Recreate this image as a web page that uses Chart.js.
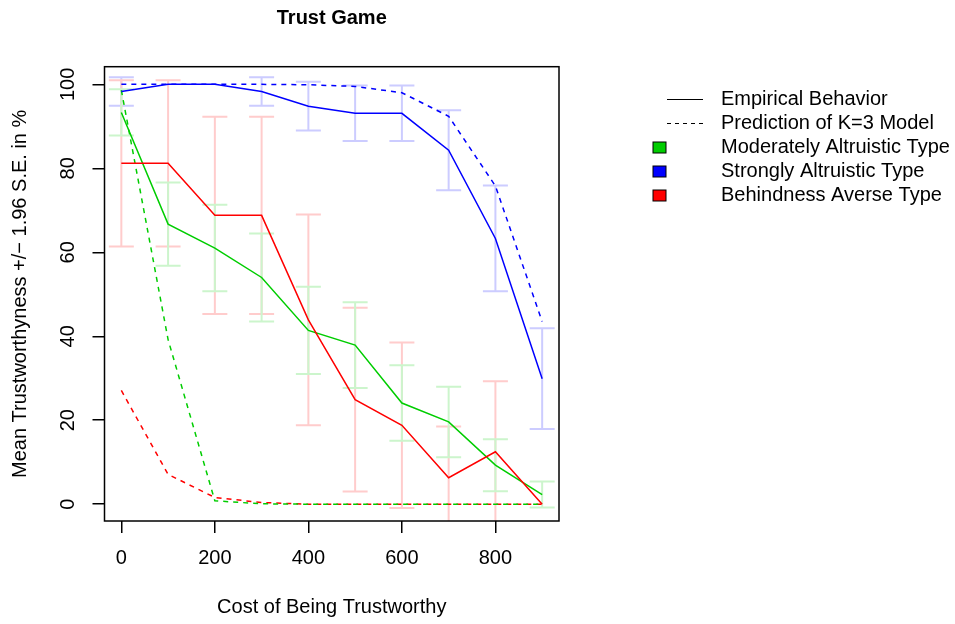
<!DOCTYPE html>
<html><head><meta charset="utf-8">
<script src="https://cdn.jsdelivr.net/npm/chart.js@4.4.1/dist/chart.umd.min.js"></script>
<style>html,body{margin:0;padding:0;background:#fff}#wrap{width:955px;height:624px}</style>
</head><body><div id="wrap"><canvas id="c" width="955" height="624"></canvas></div>
<script>
// ---- data ----
const costs = [0, 100, 200, 300, 400, 500, 600, 700, 800, 900];
const xTicks = [0, 200, 400, 600, 800];
const yTicks = [0, 20, 40, 60, 80, 100];

const moderateEmpirical = [93.3, 66.7, 61.0, 54.0, 41.4, 37.9, 24.1, 19.6, 9.3, 2.3];
const moderateError     = [5.5, 9.9, 10.3, 10.5, 10.4, 10.2, 9.0, 8.4, 6.2, 3.1];
const moderatePredicted = [98.6, 39.2, 0.8, 0.1, 0, 0, 0, 0, 0, 0];

const strongEmpirical = [98.3, 100, 100, 98.3, 94.8, 93.1, 93.1, 84.3, 63.3, 29.9];
const strongError     = [3.4, 0, 0, 3.4, 5.8, 6.6, 6.6, 9.5, 12.6, 12.0];
const strongPredicted = [100, 100, 100, 100, 99.9, 99.5, 98.0, 92.4, 75.8, 43.5];

const behindEmpirical = [81.2, 81.2, 68.8, 68.8, 43.9, 24.9, 18.8, 6.3, 12.5, 0];
const behindError     = [19.8, 19.8, 23.5, 23.5, 25.1, 21.9, 19.7, 12.2, 16.8, 0];
const behindPredicted = [27.1, 7.1, 1.6, 0.4, 0, 0, 0, 0, 0, 0];

const chartTitle = "Trust Game";
const xTitle = "Cost of Being Trustworthy";
const yTitle = "Mean Trustworthyness +/\u2212 1.96 S.E. in %";
const lineLegend = ["Empirical Behavior", "Prediction of K=3 Model"];
const typeLegend = ["Moderately Altruistic Type", "Strongly Altruistic Type", "Behindness Averse Type"];

// ---- styles ----
const GREEN = "#00CD00", BLUE = "#0000FF", RED = "#FF0000";
const FONT = "'Liberation Sans', Arial, Helvetica, sans-serif";
Chart.defaults.font.family = FONT;
Chart.defaults.font.size = 20;
Chart.defaults.color = "#000";

const pts = arr => costs.map((c, i) => ({x: c, y: arr[i]}));
function lineDs(label, arr, color, dashed) {
  return {label, data: pts(arr), borderColor: color, backgroundColor: color,
    borderWidth: 1.5, borderDash: dashed ? [5, 5] : [], pointRadius: 0,
    tension: 0, fill: false};
}

const errorSeries = [
  {mean: strongEmpirical, err: strongError, color: "#CCCCFF"},
  {mean: behindEmpirical, err: behindError, color: "#FFCCCC"},
  {mean: moderateEmpirical, err: moderateError, color: "#CCF5CC"}
];

const decor = {
  id: "decor",
  beforeDatasetsDraw(chart) {
    const {ctx, chartArea: a, scales: {x, y}} = chart;
    ctx.save();
    ctx.beginPath(); ctx.rect(a.left, a.top, a.right - a.left, a.bottom - a.top); ctx.clip();
    ctx.lineWidth = 2;
    const cap = 12.5;
    errorSeries.forEach(s => {
      ctx.strokeStyle = s.color;
      costs.forEach((c, i) => {
        if (!s.err[i]) return;
        const px = x.getPixelForValue(c);
        const t = y.getPixelForValue(s.mean[i] + s.err[i]);
        const b = y.getPixelForValue(s.mean[i] - s.err[i]);
        ctx.beginPath();
        ctx.moveTo(px, t); ctx.lineTo(px, b);
        ctx.moveTo(px - cap, t); ctx.lineTo(px + cap, t);
        ctx.moveTo(px - cap, b); ctx.lineTo(px + cap, b);
        ctx.stroke();
      });
    });
    ctx.restore();
  },
  afterDraw(chart) {
    const {ctx, chartArea: a} = chart;
    ctx.save();
    // frame
    ctx.strokeStyle = "#000"; ctx.lineWidth = 1.5;
    ctx.strokeRect(a.left, a.top, a.right - a.left, a.bottom - a.top);
    ctx.fillStyle = "#000";
    // title
    ctx.font = "bold 20px " + FONT;
    ctx.textAlign = "center"; ctx.textBaseline = "middle";
    ctx.fillText(chartTitle, (a.left + a.right) / 2, 18);
    // axis titles
    ctx.font = "20px " + FONT;
    ctx.fillText(xTitle, (a.left + a.right) / 2, 607);
    ctx.save();
    ctx.translate(20, (a.top + a.bottom) / 2);
    ctx.rotate(-Math.PI / 2);
    ctx.fillText(yTitle, 0, 0);
    ctx.restore();
    // legend
    ctx.textAlign = "left";
    const tx = 721, rows = [99, 123.5, 147.5, 171.5, 195.5];
    ctx.strokeStyle = "#000"; ctx.lineWidth = 1;
    ctx.beginPath(); ctx.moveTo(667, 99.5); ctx.lineTo(703, 99.5); ctx.stroke();
    ctx.setLineDash([4, 4]);
    ctx.beginPath(); ctx.moveTo(667, 123.5); ctx.lineTo(703, 123.5); ctx.stroke();
    ctx.setLineDash([]);
    ctx.fillText(lineLegend[0], tx, rows[0]);
    ctx.fillText(lineLegend[1], tx, rows[1]);
    [GREEN, BLUE, RED].forEach((col, i) => {
      const cy = rows[2 + i];
      ctx.fillStyle = col;
      ctx.fillRect(653, cy - 5.5, 13, 11);
      ctx.strokeStyle = "#000"; ctx.lineWidth = 1;
      ctx.strokeRect(653, cy - 5.5, 13, 11);
      ctx.fillStyle = "#000";
      ctx.fillText(typeLegend[i], tx, cy);
    });
    ctx.restore();
  }
};

new Chart(document.getElementById("c"), {
  type: "line",
  data: {
    datasets: [
      lineDs("Strongly empirical", strongEmpirical, BLUE, false),
      lineDs("Behind empirical", behindEmpirical, RED, false),
      lineDs("Moderate empirical", moderateEmpirical, GREEN, false),
      lineDs("Strongly predicted", strongPredicted, BLUE, true),
      lineDs("Moderate predicted", moderatePredicted, GREEN, true),
      lineDs("Behind predicted", behindPredicted, RED, true)
    ]
  },
  options: {
    responsive: false,
    animation: false,
    devicePixelRatio: 1,
    layout: {padding: {left: 0, top: 66.7, right: 396, bottom: 0}},
    plugins: {legend: {display: false}, tooltip: {enabled: false}, title: {display: false}},
    scales: {
      x: {
        type: "linear", min: -36, max: 936,
        afterBuildTicks: s => { s.ticks = xTicks.map(v => ({value: v})); },
        afterFit: s => { s.height = 103; },
        grid: {drawOnChartArea: false, drawTicks: true, tickLength: 12, color: "#000", lineWidth: 1.5},
        border: {display: false},
        ticks: {padding: 13, maxRotation: 0, minRotation: 0, color: "#000", font: {size: 20}}
      },
      y: {
        type: "linear", min: -4, max: 104.2,
        afterBuildTicks: s => { s.ticks = yTicks.map(v => ({value: v})); },
        afterFit: s => { s.width = 104.5; },
        grid: {drawOnChartArea: false, drawTicks: true, tickLength: 12, color: "#000", lineWidth: 1.5},
        border: {display: false},
        ticks: {padding: 7.8, minRotation: 90, maxRotation: 90, crossAlign: "center", color: "#000", font: {size: 20}}
      }
    }
  },
  plugins: [decor]
});
</script></body></html>
